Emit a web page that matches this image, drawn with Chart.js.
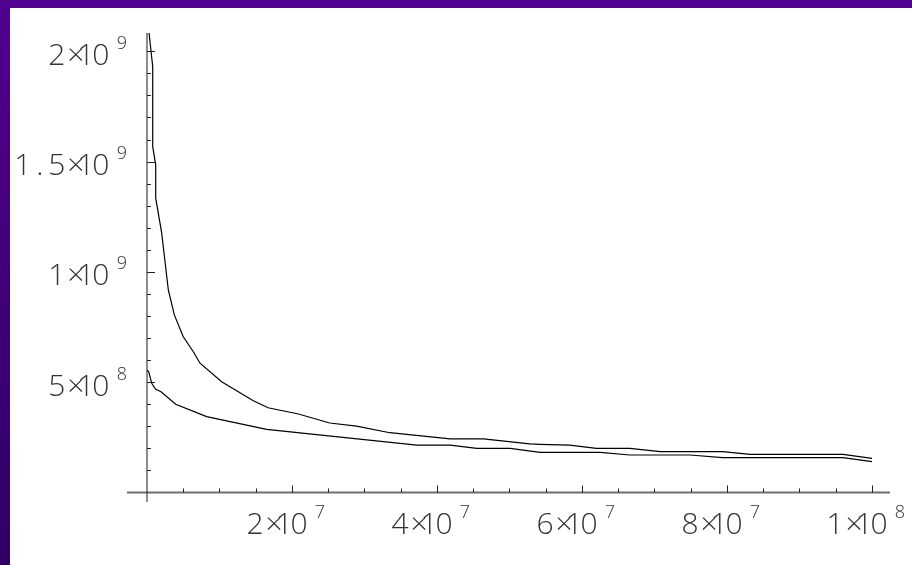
<!DOCTYPE html>
<html>
<head>
<meta charset="utf-8">
<script src="https://cdn.jsdelivr.net/npm/chart.js@4"></script>
<style>
  html, body { margin: 0; padding: 0; background: #fff; }
  canvas { display: block; }
</style>
</head>
<body>
<canvas id="decayChart"></canvas>
<script>
// upper curve
var upperX = [2.8e5, 7.9e5, 7.9e5, 1.2e6, 1.2e6, 2.03e6, 2.94e6, 3.77e6, 5.0e6, 6.39e6, 7.31e6,
    1.03e7, 1.46e7, 1.67e7, 2.09e7, 2.52e7, 2.89e7, 3.35e7, 4.18e7, 4.64e7, 5.28e7, 5.42e7,
    5.83e7, 6.2e7, 6.66e7, 7.08e7, 7.94e7, 8.32e7, 9.6e7, 1.0e8];
var upperY = [2.083e9, 1.93e9, 1.568e9, 1.485e9, 1.334e9, 1.176e9, 9.18e8, 8.05e8, 7.06e8, 6.38e8, 5.86e8,
    5.02e8, 4.17e8, 3.84e8, 3.56e8, 3.15e8, 3.01e8, 2.71e8, 2.43e8, 2.43e8, 2.2e8, 2.18e8,
    2.15e8, 2.0e8, 2.0e8, 1.85e8, 1.85e8, 1.73e8, 1.73e8, 1.55e8];

// lower curve
var lowerX = [0, 2.3e5, 4.1e5, 6.5e5, 1.17e6, 1.93e6, 3.96e6, 8.23e6, 1.65e7, 3.72e7, 4.18e7,
    4.55e7, 5.01e7, 5.42e7, 6.25e7, 6.66e7, 7.49e7, 7.94e7, 9.6e7, 1.0e8];
var lowerY = [5.55e8, 5.48e8, 5.25e8, 4.95e8, 4.69e8, 4.57e8, 4.0e8, 3.44e8, 2.86e8, 2.15e8, 2.15e8,
    2.0e8, 2.0e8, 1.82e8, 1.82e8, 1.7e8, 1.7e8, 1.58e8, 1.58e8, 1.4e8];

// tick labels  (mantissa x 10^exponent)
var xTickValues = [2e7, 4e7, 6e7, 8e7, 1e8];
var xTickMant = ["2", "4", "6", "8", "1"];
var xTickExp = ["7", "7", "7", "7", "8"];
var yTickValues = [5e8, 1e9, 1.5e9, 2e9];
var yTickMant = ["5", "1", "1.5", "2"];
var yTickExp = ["8", "9", "9", "9"];

function toPoints(xs, ys) {
    return xs.map(function (x, i) { return { x: x, y: ys[i] }; });
}

var canvas = document.getElementById("decayChart");
canvas.width = 912;
canvas.height = 565;
var ctx = canvas.getContext("2d");

var FONT = "'Open Sans', 'Liberation Sans', sans-serif";
var TEXT = "#333333";

// draws "m x 10^e" with the "0" of "10" centred on c0
function drawPower(g, c0, base, mant, exp) {
    g.fillStyle = TEXT;
    g.textBaseline = "alphabetic";
    g.textAlign = "center";
    g.font = "300 30px " + FONT;
    g.fillText("0", c0, base);
    g.fillText("1", c0 - 15, base);
    g.fillText("\u00d7", c0 - 25, base);
    for (var i = 0; i < mant.length; i++) {
        g.fillText(mant[i], c0 - 44 - 17 * (mant.length - 1 - i), base);
    }
    g.font = "300 18px " + FONT;
    g.fillText(exp, c0 + 21, base - 16);
}

var axesPlugin = {
    id: "mathAxes",
    beforeDraw: function (chart) {
        var g = chart.ctx;
        g.save();
        g.fillStyle = "#ffffff";
        g.fillRect(0, 0, chart.width, chart.height);
        g.fillStyle = "#51008f";
        g.fillRect(0, 0, chart.width, 8);
        var grad = g.createLinearGradient(0, 0, 0, chart.height);
        grad.addColorStop(0, "#51008f");
        grad.addColorStop(1, "#2f0063");
        g.fillStyle = grad;
        g.fillRect(0, 0, 10, chart.height);
        g.restore();
    },
    beforeDatasetsDraw: function (chart) {
        var g = chart.ctx, a = chart.chartArea;
        var xs = chart.scales.x, ys = chart.scales.y;
        var x0 = xs.getPixelForValue(0), y0 = ys.getPixelForValue(0);
        g.save();
        // x axis
        g.strokeStyle = "#6e6e6e";
        g.lineWidth = 2;
        g.beginPath();
        g.moveTo(a.left, y0);
        g.lineTo(a.right, y0);
        g.stroke();
        // y axis
        g.strokeStyle = "#1a1a1a";
        g.lineWidth = 1;
        g.beginPath();
        g.moveTo(x0, a.top);
        g.lineTo(x0, a.bottom);
        g.stroke();
        // ticks
        g.strokeStyle = "#222";
        g.beginPath();
        for (var v = 5e6; v <= xs.max; v += 5e6) {
            var px = Math.round(xs.getPixelForValue(v)) + 0.5;
            var len = (Math.round(v / 5e6) % 4 === 0) ? 7 : 4;
            g.moveTo(px, y0);
            g.lineTo(px, y0 - len);
        }
        for (var w = 1e8; w <= ys.max; w += 1e8) {
            var py = Math.round(ys.getPixelForValue(w)) + 0.5;
            var len2 = (Math.round(w / 1e8) % 5 === 0) ? 8 : 4;
            g.moveTo(x0, py);
            g.lineTo(x0 + len2, py);
        }
        g.stroke();
        g.restore();
    },
    afterDraw: function (chart) {
        var g = chart.ctx;
        var xs = chart.scales.x, ys = chart.scales.y;
        g.save();
        xTickValues.forEach(function (v, i) {
            drawPower(g, xs.getPixelForValue(v) + 7, 534, xTickMant[i], xTickExp[i]);
        });
        yTickValues.forEach(function (v, i) {
            drawPower(g, 100.8, ys.getPixelForValue(v) + 13.5, yTickMant[i], yTickExp[i]);
        });
        g.restore();
    }
};

var decayChart = new Chart(ctx, {
    type: "scatter",
    data: {
        datasets: [{
            data: toPoints(upperX, upperY),
            showLine: true,
            borderColor: "#000",
            borderWidth: 1.2,
            pointRadius: 0,
            tension: 0
        }, {
            data: toPoints(lowerX, lowerY),
            showLine: true,
            borderColor: "#000",
            borderWidth: 1.2,
            pointRadius: 0,
            tension: 0
        }]
    },
    options: {
        responsive: false,
        animation: false,
        devicePixelRatio: 1,
        events: [],
        layout: {
            padding: { left: 127, right: 22, top: 33, bottom: 63 }
        },
        plugins: {
            legend: { display: false },
            tooltip: { enabled: false }
        },
        scales: {
            x: {
                type: "linear",
                display: false,
                min: -2.7586e6,
                max: 1.02483e8
            },
            y: {
                type: "linear",
                display: false,
                min: -4.306e7,
                max: 2.083e9
            }
        }
    },
    plugins: [axesPlugin]
});
</script>
</body>
</html>
